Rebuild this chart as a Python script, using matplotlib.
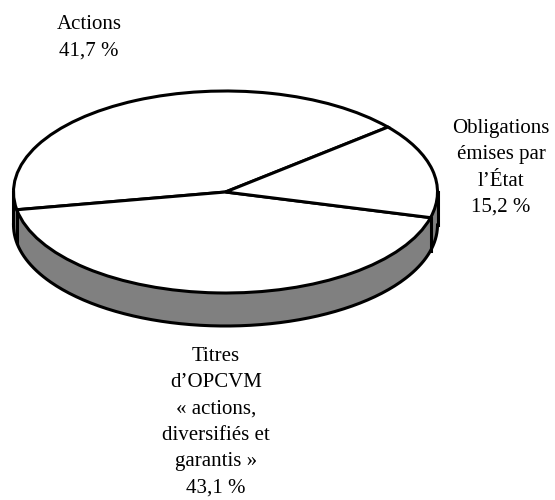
import numpy as np
import matplotlib
matplotlib.use("Agg")
import matplotlib.pyplot as plt

labels = ["Actions\n41,7 %",
          "Titres\nd’OPCVM\n« actions,\ndiversifiés et\ngarantis »\n43,1 %",
          "Obligations\némises par\nl’État\n15,2 %"]
values = [41.7, 43.1, 15.2]

W, H = 555, 500
cx, cy, rx, ry = 225.5, 192, 212, 101
depth = 33 / ry
lw = 2.2
grey = "#808080"
start = 40

plt.rcParams["font.family"] = ["Liberation Serif", "DejaVu Serif"]
fig = plt.figure(figsize=(W / 100, H / 100), dpi=100)

# axes box is the unit circle, squashed to the ellipse
ax = fig.add_axes([0, 0, 1, 1])

# side of the disc: band under the front half of the rim
t = np.linspace(np.pi, 2 * np.pi, 200)
ax.fill_between(np.cos(t), np.sin(t), np.sin(t) - depth, color=grey, lw=0, zorder=2)
ax.plot(np.cos(t), np.sin(t) - depth, color="black", lw=lw, zorder=3)

# edges of the side: silhouette and the slice boundaries under the rim
angles = start + np.cumsum([0] + values[:-1]) * 3.6
for a in [180.0, 360.0] + [v for v in angles if np.sin(np.radians(v)) < 0]:
    x, y = np.cos(np.radians(a)), np.sin(np.radians(a))
    ax.plot([x, x], [y, y - depth], color="black", lw=lw, zorder=3)

# top face
wedges, _ = ax.pie(values, startangle=start, radius=1, center=(0, 0), frame=True,
                   colors=["white"] * 3,
                   wedgeprops=dict(edgecolor="black", linewidth=lw))
for w in wedges:
    w.set_zorder(4)
ax.set_aspect("auto")
ax.set_xlim((0 - cx) / rx, (W - cx) / rx)
ax.set_ylim((cy - H) / ry, cy / ry)
ax.axis("off")

# labels, pixel positions of the text block centres
text_style = dict(ha="center", va="center", fontsize=15, linespacing=1.52)
fig.text(89 / W, 1 - 38 / H, labels[0], **text_style)
fig.text(216 / W, 1 - 422 / H, labels[1], **text_style)
fig.text(501 / W, 1 - 168 / H, labels[2], **text_style)

fig.savefig("out.png", dpi=100)
